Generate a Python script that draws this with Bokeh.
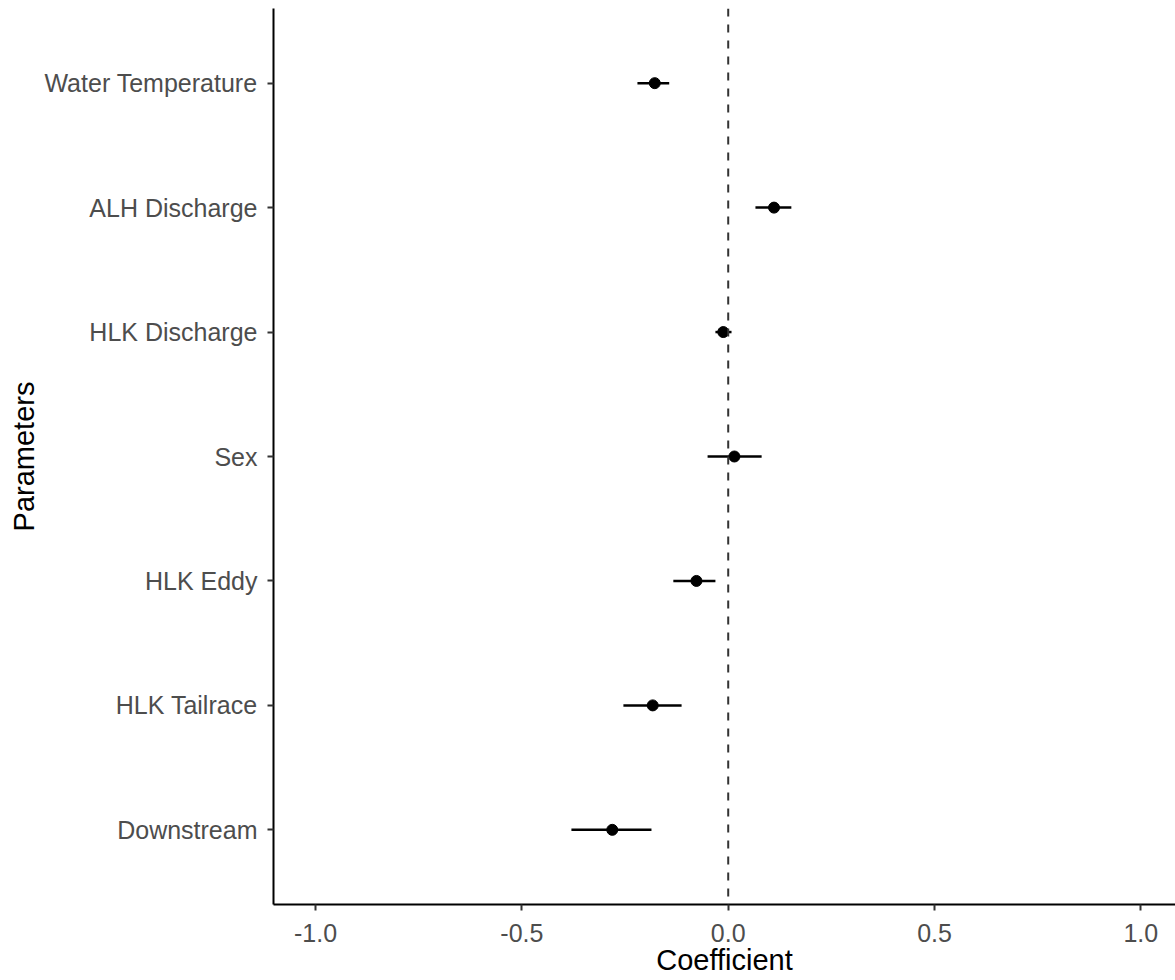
from bokeh.plotting import figure
from bokeh.models import ColumnDataSource, Span, FixedTicker, Range1d
from bokeh.embed import file_html
from bokeh.resources import INLINE

# Data (bottom to top order as shown)
parameters = ["Downstream", "HLK Tailrace", "HLK Eddy", "Sex",
              "HLK Discharge", "ALH Discharge", "Water Temperature"]
coef = [-0.281, -0.183, -0.077, 0.015, -0.012, 0.111, -0.178]
lower = [-0.380, -0.254, -0.133, -0.050, -0.031, 0.066, -0.220]
upper = [-0.186, -0.113, -0.031, 0.081, 0.008, 0.153, -0.143]
x_ticks = [-1.0, -0.5, 0.0, 0.5, 1.0]
x_tick_labels = ["-1.0", "-0.5", "0.0", "0.5", "1.0"]

ypos = list(range(1, len(parameters) + 1))
src = ColumnDataSource(dict(y=ypos, coef=coef, lo=lower, hi=upper, name=parameters))

FONT = "Liberation Sans"

p = figure(width=1175, height=980, output_backend="svg", toolbar_location=None,
           x_range=Range1d(-1.102, 1.084), y_range=Range1d(0.4, len(parameters) + 0.6),
           min_border_left=273, min_border_top=8, min_border_right=0, min_border_bottom=76)
p.outline_line_color = None
p.background_fill_color = "white"
p.border_fill_color = "white"
p.xgrid.visible = False
p.ygrid.visible = False

zero = Span(location=0, dimension="height", line_color="#333333",
            line_width=2, line_dash="8 8")
p.add_layout(zero)

p.segment(x0="lo", x1="hi", y0="y", y1="y", source=src, line_color="black", line_width=2.5)
p.scatter(x="coef", y="y", source=src, size=11, fill_color="black", line_color="black")

# axes styling
for ax in (p.xaxis[0], p.yaxis[0]):
    ax.axis_line_color = "black"
    ax.axis_line_width = 2
    ax.major_tick_line_color = "#333333"
    ax.major_tick_line_width = 2
    ax.major_tick_out = 6
    ax.major_tick_in = 0
    ax.minor_tick_line_color = None
    ax.major_label_text_font = FONT
    ax.major_label_text_font_size = "25px"
    ax.major_label_text_color = "#4D4D4D"
    ax.axis_label_text_font = FONT
    ax.axis_label_text_font_size = "29px"
    ax.axis_label_text_font_style = "normal"
    ax.axis_label_text_color = "black"

p.xaxis.ticker = FixedTicker(ticks=x_ticks)
p.xaxis.major_label_overrides = {t: l for t, l in zip(x_ticks, x_tick_labels)}
p.xaxis.axis_label = "Coefficient"
p.xaxis.major_label_standoff = 13
p.xaxis.axis_label_standoff = -1

p.yaxis.ticker = FixedTicker(ticks=ypos)
p.yaxis.major_label_overrides = {y: n for y, n in zip(ypos, parameters)}
p.yaxis.axis_label = "Parameters"
p.yaxis.major_label_standoff = 10
p.yaxis.axis_label_standoff = 1

open("out.html", "w").write(file_html(p, INLINE))
